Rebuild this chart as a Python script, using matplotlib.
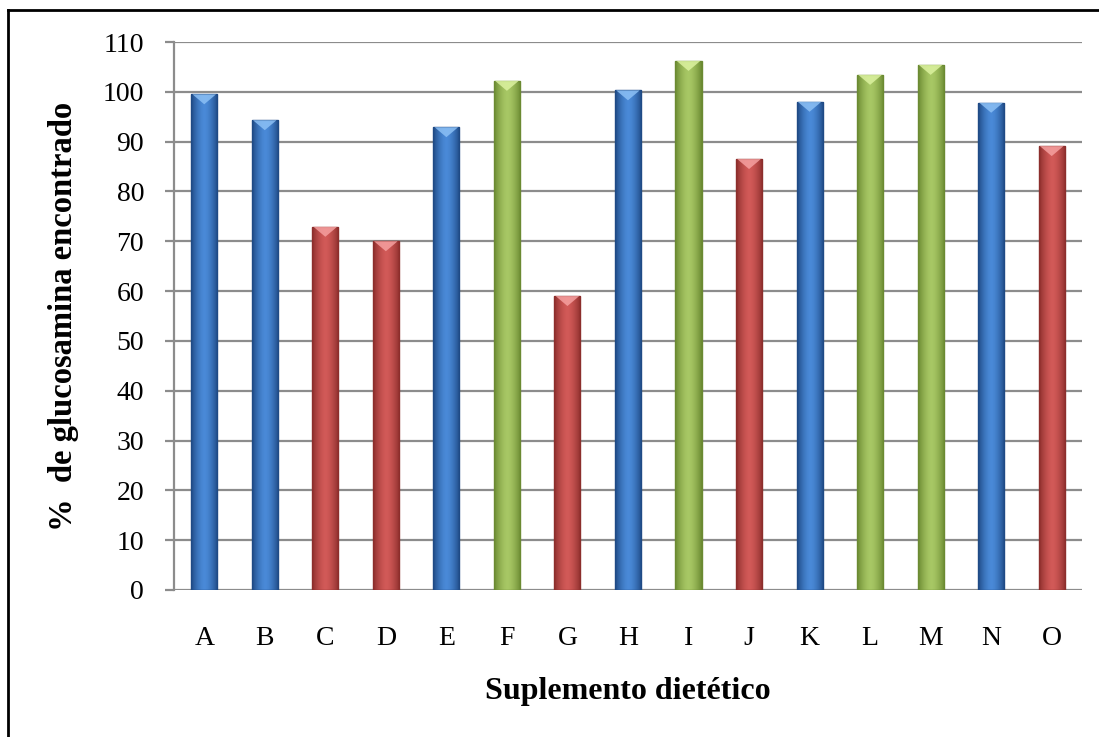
import numpy as np
import matplotlib
matplotlib.use("Agg")
import matplotlib.pyplot as plt
from matplotlib.colors import to_rgb
from matplotlib.patches import Polygon, Rectangle
from matplotlib.lines import Line2D

# data
suplementos = ["A", "B", "C", "D", "E", "F", "G", "H", "I", "J", "K", "L", "M", "N", "O"]
glucosamina = [99.5, 94.3, 72.9, 70.0, 92.9, 102.2, 59.0, 100.3, 106.2, 86.5, 98.0, 103.4, 105.4, 97.8, 89.1]
grupo = ["azul", "azul", "rojo", "rojo", "azul", "verde", "rojo", "azul", "verde", "rojo",
         "azul", "verde", "verde", "azul", "rojo"]

# (edge colour, centre colour, bevel highlight)
paleta = {
    "azul": ("#1f4a85", "#4a8ad8", "#8cc0f5"),
    "rojo": ("#8c2e2c", "#d25a58", "#f5a0a0"),
    "verde": ("#6b8a32", "#a8c865", "#dcf2a0"),
}

plt.rcParams["font.family"] = ["Liberation Serif", "DejaVu Serif"]

fig = plt.figure(figsize=(10.99, 7.37), dpi=100)
ax = fig.add_axes([0.1583, 0.1995, 0.8262, 0.7435])

x = np.arange(len(suplementos))
width = 0.43
bars = ax.bar(x, glucosamina, width=width, color="none", edgecolor="none", zorder=3)

# horizontal gradient inside each bar, darker on the sides
t = np.linspace(-1, 1, 64)
peso = 1 - np.abs(t) ** 1.6
for b, g in zip(bars, grupo):
    borde, centro, brillo = paleta[g]
    c0, c1 = np.array(to_rgb(borde)), np.array(to_rgb(centro))
    grad = c0[None, :] + (c1 - c0)[None, :] * peso[:, None]
    x0, h = b.get_x(), b.get_height()
    im = ax.imshow(grad[None, :, :], extent=(x0, x0 + width, 0, h), aspect="auto",
                   zorder=3, interpolation="bilinear")
    im.set_clip_path(b)
    ax.add_patch(Rectangle((x0, 0), width, h, fill=False, edgecolor=borde,
                           linewidth=1.0, zorder=4))
    tri = Polygon([(x0 + 0.02, h), (x0 + width - 0.02, h), (x0 + width / 2, h - 2.0)],
                  closed=True, facecolor=brillo, edgecolor="none", alpha=0.85, zorder=4)
    ax.add_patch(tri)

ax.set_xlim(-0.5, len(suplementos) - 0.5)
ax.set_ylim(0, 110)
ax.set_yticks(range(0, 111, 10))
ax.set_xticks(x)
ax.set_xticklabels(suplementos)

ax.yaxis.grid(True, color="#8c8c8c", linewidth=1.6, zorder=0)
ax.set_axisbelow(True)
for s in ["top", "right", "bottom"]:
    ax.spines[s].set_visible(False)
ax.spines["left"].set_color("#8c8c8c")
ax.spines["left"].set_linewidth(1.6)

ax.tick_params(axis="y", length=6.5, width=1.6, color="#8c8c8c", labelsize=20, pad=15)
ax.tick_params(axis="x", length=0, labelsize=20, pad=26)

ax.set_ylabel("%  de glucosamina encontrado", fontsize=23.5, fontweight="bold", labelpad=17)
ax.set_xlabel("Suplemento dietético", fontsize=23, fontweight="bold", labelpad=19)

# black frame on the left and top edges only
fig.lines.append(Line2D([8 / 1099, 8 / 1099], [0, 1 - 10 / 737], transform=fig.transFigure,
                        color="black", linewidth=2))
fig.lines.append(Line2D([8 / 1099, 1], [1 - 10 / 737, 1 - 10 / 737], transform=fig.transFigure,
                        color="black", linewidth=2))

fig.savefig("out.png", dpi=100)
